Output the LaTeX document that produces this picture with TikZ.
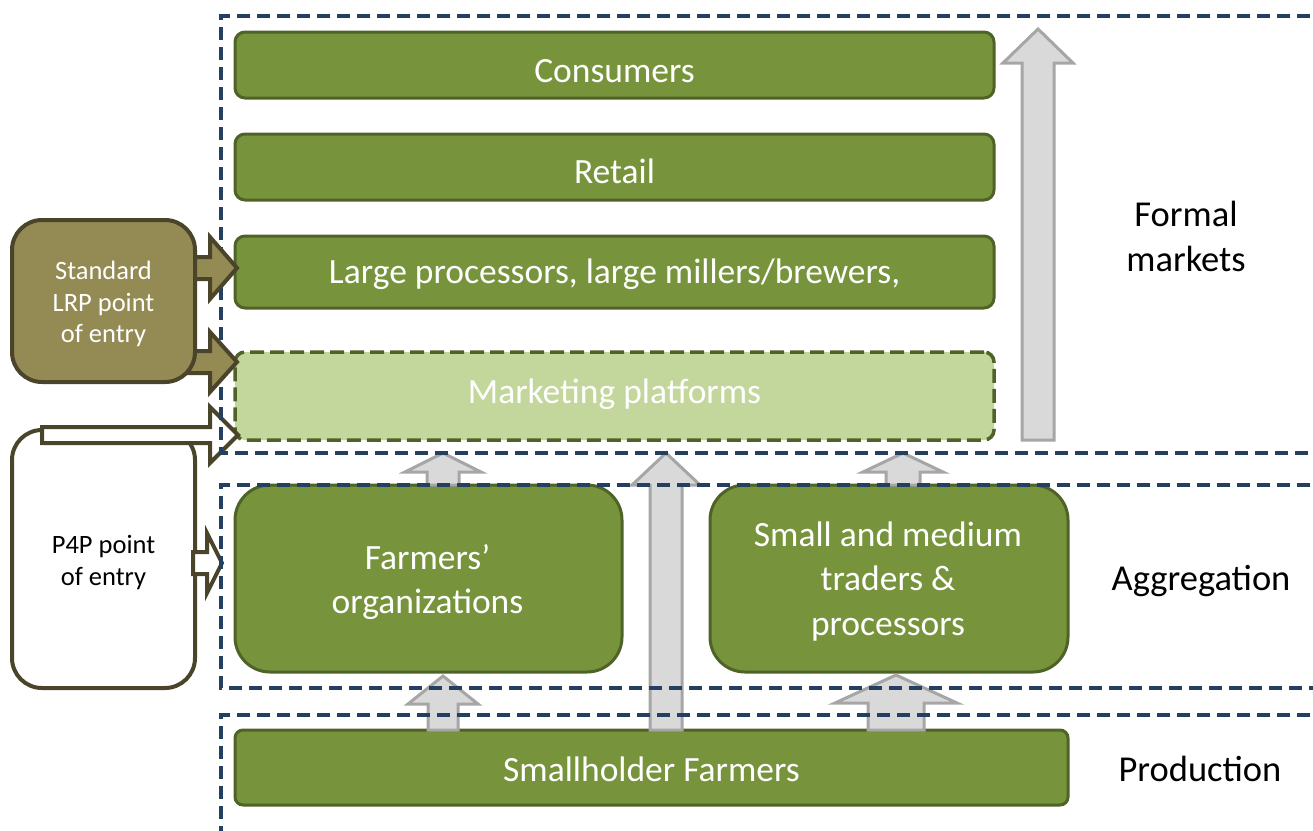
\documentclass[tikz,border=0pt]{standalone}
\usepackage{fontspec}
\setmainfont{Carlito}
\definecolor{gmid}{HTML}{77933C}
\definecolor{gdark}{HTML}{4F6228}
\definecolor{glight}{HTML}{C3D69B}
\definecolor{navy}{HTML}{243F60}
\definecolor{olive}{HTML}{948A54}
\definecolor{olivedark}{HTML}{4A452A}
\definecolor{arrfill}{HTML}{D9D9D9}
\definecolor{arrline}{HTML}{A6A6A6}
\newcommand\vblock[7]{%
  \draw[#1] (#2-#5,#3) -- (#2-#5,#4+#7) -- (#2-#6,#4+#7) -- (#2,#4) -- (#2+#6,#4+#7) -- (#2+#5,#4+#7) -- (#2+#5,#3) -- cycle;}
\newcommand\hblock[7]{%
  \draw[#1] (#3,#2-#5) -- (#4-#7,#2-#5) -- (#4-#7,#2-#6) -- (#4,#2) -- (#4-#7,#2+#6) -- (#4-#7,#2+#5) -- (#3,#2+#5) -- cycle;}
\begin{document}
\begin{tikzpicture}[x=1pt,y=-1pt,
  gfont/.style={font=\fontsize{35.5}{44.5}\selectfont},
  gbox/.style={draw=gdark, fill=gmid, line width=3pt, rounded corners=10pt, text=white,
    gfont, align=center, inner sep=0pt, text depth=0pt},
  gtext/.style={text=white, gfont, align=center, inner sep=0pt},
  mbox/.style={gbox, fill=glight, dash pattern=on 14pt off 6pt, line width=3.5pt},
  sidebox/.style={draw=olivedark, line width=4pt, rounded corners=30pt, minimum width=183pt},
  sidetext/.style={align=center, font=\fontsize{26.5}{31.5}\selectfont, inner sep=0pt},
  lbl/.style={font=\fontsize{36.5}{45}\selectfont, align=center, text=black, inner sep=0pt},
  navyline/.style={draw=navy, line width=4pt, dash pattern=on 13pt off 7pt},
  grayarr/.style={draw=arrline, fill=arrfill, line width=3pt},
  olivearr/.style={draw=olivedark, fill=olive, line width=4pt},
  whitearr/.style={draw=olivedark, fill=white, line width=4pt}]
\useasboundingbox (0,0) rectangle (1313,830);

% green boxes (single-line texts: baseline set through text height)
\node[gbox, minimum width=759pt, minimum height=66pt, text height=34pt] (cons) at (614.5,65) {Consumers};
\node[gbox, minimum width=759pt, minimum height=66pt, text height=33pt] (retail) at (614.5,167) {Retail};
\node[gbox, minimum width=759pt, minimum height=72pt, text height=22pt] (large) at (614.5,272) {Large processors, large millers/brewers,};
\node[mbox, minimum width=759pt, minimum height=88pt, text height=15pt] (mkt) at (614.5,396) {Marketing platforms};
\node[gbox, rounded corners=35pt, minimum width=387pt, minimum height=187pt] (fo) at (428.5,578.5) {};
\node[gtext] (fotext) at (427.5,582) {Farmers’\\organizations};
\node[gbox, rounded corners=35pt, minimum width=358pt, minimum height=187pt] (smt) at (889,578.5) {};
\node[gtext] (smttext) at (888,581.5) {Small and medium\\traders \&\\processors};
\node[gbox, rounded corners=8pt, minimum width=833pt, minimum height=75pt, text height=28pt] (shf) at (651.5,767.5) {Smallholder Farmers};

% right labels
\node[lbl] (formal) at (1186,236) {Formal\\markets};
\node[lbl] (aggr) at (1201,581) {Aggregation};
\node[lbl] (prod) at (1200,769) {Production};

% gray flow arrows
\vblock{grayarr}{1038}{440}{29}{16}{35}{34}
\vblock{grayarr}{666}{730}{453}{16}{34}{32}
\vblock{grayarr}{443}{485}{453}{16}{38}{19}
\vblock{grayarr}{903}{485}{453}{17}{40}{19}
\vblock{grayarr}{443}{730}{676}{15}{35}{28}
\vblock{grayarr}{896}{730}{675}{28}{61}{28}

% P4P box and its arrows
\node[sidebox, fill=white, minimum height=258pt] (p4p) at (103.5,559) {};
\node[sidetext, text=black] (p4ptext) at (103.5,562.5) {P4P point\\of entry};
\hblock{whitearr}{435}{42}{238}{8}{28}{28}
\hblock{whitearr}{563}{193}{222}{11}{30}{15}

% dashed level frames
\draw[navyline] (1330,16) -- (221,16) -- (221,453) -- (1330,453);
\draw[navyline] (1330,485) -- (221,485) -- (221,688) -- (1330,688);
\draw[navyline] (1330,715) -- (221,715) -- (221,840);

% LRP arrows and box
\hblock{olivearr}{268}{185}{237}{11}{31}{27}
\hblock{olivearr}{362}{185}{237}{11}{30}{27}
\node[sidebox, fill=olive, minimum height=162pt] (lrp) at (103.5,301) {};
\node[sidetext, text=white] (lrptext) at (103.5,304) {Standard\\LRP point\\of entry};
\end{tikzpicture}
\end{document}
